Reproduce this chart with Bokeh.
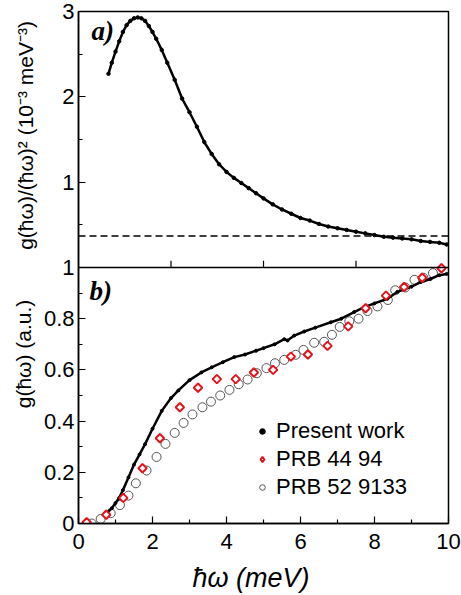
import numpy as np
from bokeh.plotting import figure
from bokeh.layouts import row
from bokeh.models import Range1d, FixedTicker, Label, Legend, LegendItem, Span
from bokeh.core.properties import value
from bokeh.embed import file_html
from bokeh.resources import INLINE

# ---------------- panel a): g(hw)/(hw)^2 ----------------
a_x = [0.81, 0.9, 1.0, 1.1, 1.2, 1.3, 1.4, 1.5, 1.6, 1.7, 1.8, 1.9, 2.0, 2.1, 2.25,
       2.4, 2.6, 2.8, 3.0, 3.2, 3.4, 3.6, 3.8, 4.0, 4.2, 4.4, 4.6, 4.8, 5.0, 5.25,
       5.5, 5.75, 6.0, 6.25, 6.5, 6.75, 7.0, 7.25, 7.5, 7.75, 8.0, 8.25, 8.5, 8.75,
       9.0, 9.25, 9.5, 9.75, 9.95]
a_y = [2.27, 2.40, 2.53, 2.65, 2.76, 2.84, 2.89, 2.92, 2.93, 2.92, 2.89, 2.83, 2.76, 2.68, 2.55,
       2.40, 2.20, 1.98, 1.82, 1.65, 1.47, 1.33, 1.21, 1.12, 1.05, 0.99, 0.93, 0.87, 0.81, 0.74,
       0.68, 0.63, 0.58, 0.55, 0.51, 0.48, 0.46, 0.44, 0.42, 0.40, 0.38, 0.36, 0.35, 0.34,
       0.33, 0.31, 0.30, 0.29, 0.27]
a_ref_level = 0.37

# ---------------- panel b): g(hw) ----------------
present_x = [0.76, 0.9, 1.0, 1.1, 1.2, 1.35, 1.5, 1.65, 1.8, 2.0, 2.25, 2.5, 2.7, 3.0, 3.32,
             3.6, 3.9, 4.21, 4.5, 4.8, 5.0, 5.3, 5.56, 5.65, 5.83, 6.1, 6.4, 6.82, 7.1, 7.45,
             7.72, 8.0, 8.35, 8.62, 9.0, 9.25, 9.51, 9.75, 9.95]
present_y = [0.04, 0.06, 0.08, 0.10, 0.13, 0.18, 0.23, 0.27, 0.31, 0.37, 0.44, 0.49, 0.52, 0.56, 0.59,
             0.61, 0.63, 0.65, 0.66, 0.675, 0.685, 0.70, 0.72, 0.715, 0.734, 0.75, 0.765, 0.786, 0.80, 0.826,
             0.845, 0.86, 0.878, 0.905, 0.925, 0.943, 0.955, 0.97, 0.975]

prb44_x = [0.22, 0.75, 1.21, 1.73, 2.20, 2.74, 3.23, 3.74, 4.25, 4.74, 5.26, 5.74, 6.20, 6.73,
           7.29, 7.76, 8.31, 8.80, 9.29, 9.81]
prb44_y = [0.005, 0.034, 0.10, 0.216, 0.333, 0.454, 0.53, 0.564, 0.564, 0.59, 0.60, 0.652, 0.66, 0.694,
           0.77, 0.841, 0.89, 0.924, 0.96, 0.997]

prb52_x = [0.36, 0.60, 0.87, 1.12, 1.35, 1.55, 1.84, 2.11, 2.35, 2.60, 2.84, 3.08, 3.35, 3.58,
           3.83, 4.08, 4.33, 4.57, 4.82, 5.08, 5.31, 5.56, 5.87, 6.08, 6.37, 6.64, 6.85, 7.06,
           7.32, 7.57, 7.81, 8.08, 8.36, 8.56, 8.83, 9.08, 9.32, 9.58]
prb52_y = [0.0, 0.018, 0.04, 0.072, 0.109, 0.157, 0.207, 0.26, 0.311, 0.354, 0.393, 0.426, 0.454, 0.476,
           0.50, 0.522, 0.544, 0.5625, 0.587, 0.607, 0.626, 0.639, 0.659, 0.678, 0.706, 0.71, 0.737, 0.768,
           0.79, 0.80, 0.83, 0.848, 0.873, 0.911, 0.922, 0.952, 0.96, 0.978]

# ---------------- ticks / titles ----------------
x_ticks = [0, 2, 4, 6, 8, 10]
x_minor = [1, 3, 5, 7, 9]
b_yticks = [0.0, 0.2, 0.4, 0.6, 0.8, 1.0]
b_ylabels = ["0", "0.2", "0.4", "0.6", "0.8", "1"]
b_yminor = [0.1, 0.3, 0.5, 0.7, 0.9]
a_yticks = [1, 2, 3]
a_ylabels = ["1", "2", "3"]
a_yminor = [0.5, 1.5, 2.5]
a_xticks = [2.5, 5.0, 7.5]

a_ytitle = "g(ħω)/(ħω)² (10⁻³ meV⁻³)"
b_ytitle = "g(ħω) (a.u.)"
x_title = "ħω (meV)"
series_names = ["Present work", "PRB 44 94", "PRB 52 9133"]

A_LO, A_HI = 0.0, 3.0   # panel a range, stacked above panel b (0..1)


def a_to_c(v):
    return 1.0 + (v - A_LO) / (A_HI - A_LO)


FONT = "Liberation Sans"
W, H = 461, 595
LW = 40  # width of the strip holding the rotated y titles

# ---------------- strip with the y-axis titles ----------------
lf = figure(width=LW, height=H, x_range=Range1d(0, LW), y_range=Range1d(0, H),
            output_backend="svg", toolbar_location=None,
            x_axis_location=None, y_axis_location=None,
            min_border_left=0, min_border_right=0, min_border_top=0, min_border_bottom=0)
lf.xgrid.visible = False
lf.ygrid.visible = False
lf.outline_line_color = None
lf.background_fill_color = "white"
lf.border_fill_color = "white"
lf.text(x=[25], y=[H - 144], text=[a_ytitle], angle=np.pi / 2, text_align="center",
        text_baseline="middle", text_font=value(FONT), text_font_size="21px", text_color="black")
lf.text(x=[23], y=[H - 398], text=[b_ytitle], angle=np.pi / 2, text_align="center",
        text_baseline="middle", text_font=value(FONT), text_font_size="21px", text_color="black")

# ---------------- main plot ----------------
p = figure(width=W - LW, height=H, x_range=Range1d(0, 10), y_range=Range1d(0, 2),
           output_backend="svg", toolbar_location=None,
           min_border_left=77 - LW, min_border_right=13, min_border_top=11, min_border_bottom=72)
p.extra_y_ranges = {"top": Range1d(A_LO - (A_HI - A_LO), A_HI)}

p.xgrid.visible = False
p.ygrid.visible = False
p.outline_line_color = "black"
p.outline_line_width = 1.5
p.outline_line_alpha = 1.0
p.background_fill_color = "white"
p.border_fill_color = "white"

# x axis
xa = p.xaxis[0]
xa.ticker = FixedTicker(ticks=x_ticks, minor_ticks=x_minor)
xa.major_tick_in = 7
xa.major_tick_out = 0
xa.minor_tick_in = 4
xa.minor_tick_out = 0
xa.axis_line_width = 1.5
xa.major_tick_line_width = 1.2
xa.minor_tick_line_width = 1.2
xa.major_label_text_font = FONT
xa.major_label_text_font_size = "22px"
xa.major_label_text_color = "black"
xa.major_label_standoff = 10

# y axis (both panels)
ya = p.yaxis[0]
yt = b_yticks + [a_to_c(v) for v in a_yticks]
ym = b_yminor + [a_to_c(v) for v in a_yminor]
ya.ticker = FixedTicker(ticks=yt, minor_ticks=ym)
overrides = {}
for t, s in zip(b_yticks, b_ylabels):
    overrides[t] = s
for v, s in zip(a_yticks, a_ylabels):
    overrides[a_to_c(v)] = s
ya.major_label_overrides = overrides
ya.major_tick_in = 7
ya.major_tick_out = 0
ya.minor_tick_in = 4
ya.minor_tick_out = 0
ya.axis_line_width = 1.5
ya.major_tick_line_width = 1.2
ya.minor_tick_line_width = 1.2
ya.major_label_text_font = FONT
ya.major_label_text_font_size = "22px"
ya.major_label_text_color = "black"
ya.major_label_standoff = 4

# panel boundary
p.add_layout(Span(location=1.0, dimension="width", line_color="black", line_width=1.5))
# panel a bottom ticks
p.segment(x0=a_xticks, y0=[A_LO] * len(a_xticks), x1=a_xticks, y1=[A_LO + 0.08] * len(a_xticks),
          y_range_name="top", line_color="black", line_width=1.2)

# ---------------- panel a ----------------
p.add_layout(Span(location=a_ref_level, dimension="width", y_range_name="top",
                  line_color="black", line_width=1.5, line_dash="7 4"))
p.line(a_x, a_y, y_range_name="top", line_color="black", line_width=2.5)
p.scatter(a_x, a_y, y_range_name="top", size=3.5, color="black")

# ---------------- panel b ----------------
RED = "#e3141c"
GREY = "#555555"
r52 = p.scatter(prb52_x, prb52_y, marker="circle", size=9, line_color=GREY,
                fill_color=None, line_width=1)
p.line(present_x, present_y, line_color="black", line_width=2.5)
p.scatter(present_x, present_y, size=3, color="black")
r44 = p.scatter(prb44_x, prb44_y, marker="square", angle=np.pi / 4, size=6,
                line_color=RED, fill_color="white", line_width=2)
nan = float("nan")
leg_present = p.scatter([nan], [nan], marker="circle", size=7.5, color="black")
leg_44 = p.scatter([nan], [nan], marker="diamond", size=11, line_color=RED,
                   fill_color="white", line_width=2)
leg_52 = p.scatter([nan], [nan], marker="circle", size=9, line_color=GREY,
                   fill_color=None, line_width=1)

legend = Legend(items=[LegendItem(label=series_names[0], renderers=[leg_present]),
                       LegendItem(label=series_names[1], renderers=[leg_44]),
                       LegendItem(label=series_names[2], renderers=[leg_52])],
                location=(177, 23), border_line_alpha=0, background_fill_alpha=0,
                label_text_font=FONT, label_text_font_size="22px", label_text_color="black",
                glyph_width=14, glyph_height=20, label_height=20, spacing=2,
                padding=0, margin=0, label_standoff=7)
p.add_layout(legend)

# panel tags
p.add_layout(Label(x=0.35, y=2.77, y_range_name="top", text="a)", text_font="Liberation Serif",
                   text_font_style="bold italic", text_font_size="27px", text_baseline="middle",
                   text_color="black"))
p.add_layout(Label(x=0.30, y=0.91, text="b)", text_font="Liberation Serif",
                   text_font_style="bold italic", text_font_size="27px", text_baseline="middle",
                   text_color="black"))

# x title (in the below panel so that it is not clipped to the frame)
p.add_layout(Label(x=4.66, y=-0.211, text=x_title, text_align="center",
                   text_baseline="middle", text_font=FONT, text_font_style="italic",
                   text_font_size="27px", text_color="black"), "below")

layout = row(lf, p)
open("out.html", "w").write(file_html(layout, INLINE))
